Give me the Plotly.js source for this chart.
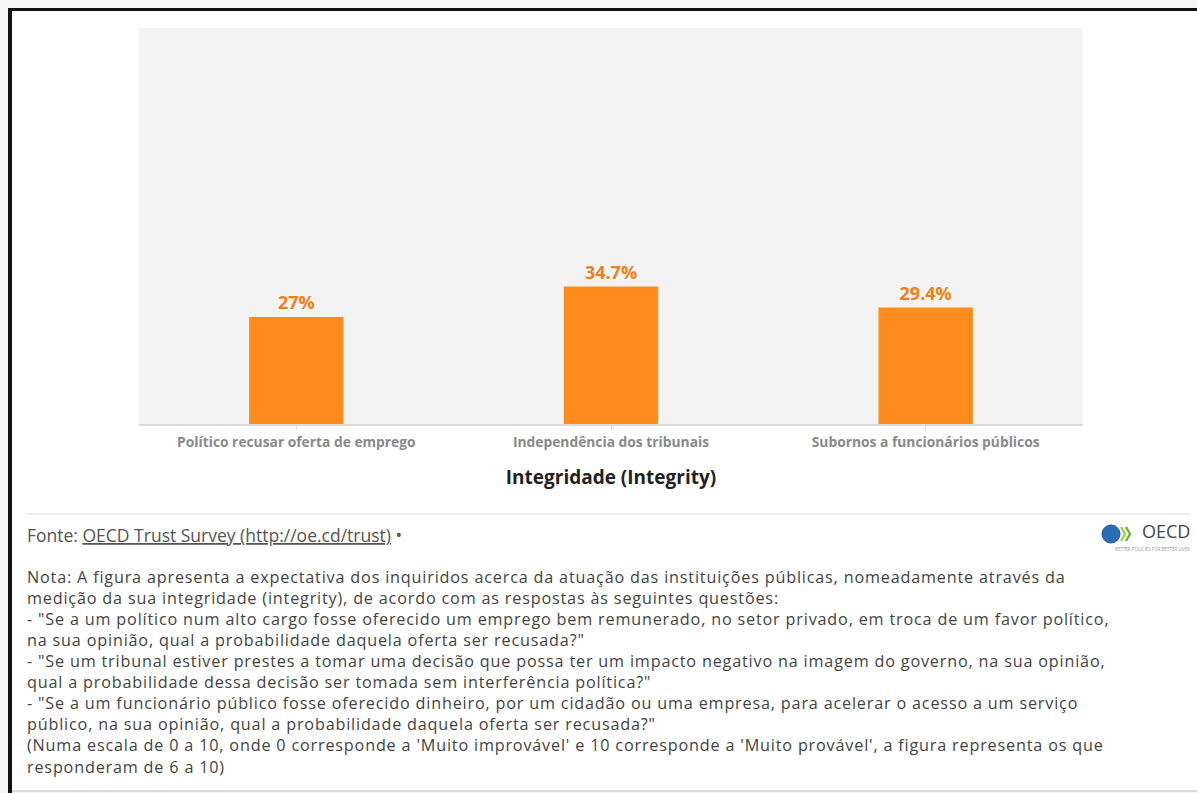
<!DOCTYPE html>
<html>
<head>
<meta charset="utf-8">
<script src="https://cdn.plot.ly/plotly-3.0.1.min.js"></script>
<style>
  html, body { margin: 0; padding: 0; background: #f5f5f5; }
  #chart { width: 1197px; height: 793px; }
</style>
</head>
<body>
<div id="chart"></div>
<script>
const categories = [
  "Político recusar oferta de emprego",
  "Independência dos tribunais",
  "Subornos a funcionários públicos"
];
const values = [27, 34.7, 29.4];
const valueLabels = ["27%", "34.7%", "29.4%"];
const axisTitle = "Integridade (Integrity)";
const sourceText = 'Fonte: <span style="text-decoration:underline">OECD Trust Survey (http://oe.cd/trust)</span> •';
const noteLines = [
  "Nota: A figura apresenta a expectativa dos inquiridos acerca da atuação das instituições públicas, nomeadamente através da",
  "medição da sua integridade (integrity), de acordo com as respostas às seguintes questões:",
  "- \"Se a um político num alto cargo fosse oferecido um emprego bem remunerado, no setor privado, em troca de um favor político,",
  "na sua opinião, qual a probabilidade daquela oferta ser recusada?\"",
  "- \"Se um tribunal estiver prestes a tomar uma decisão que possa ter um impacto negativo na imagem do governo, na sua opinião,",
  "qual a probabilidade dessa decisão ser tomada sem interferência política?\"",
  "- \"Se a um funcionário público fosse oferecido dinheiro, por um cidadão ou uma empresa, para acelerar o acesso a um serviço",
  "público, na sua opinião, qual a probabilidade daquela oferta ser recusada?\"",
  "(Numa escala de 0 a 10, onde 0 corresponde a 'Muito improvável' e 10 corresponde a 'Muito provável', a figura representa os que",
  "responderam de 6 a 10)"
];

// plot area geometry (pixels)
const L = 139, R = 1083, T = 28, B = 424;
const W = 1197, H = 793;
const xp = px => (px - L) / (R - L);
const yp = py => (B - py) / (B - T);
const pathOf = pts => pts.map((p, i) => (i ? 'L' : 'M') + xp(p[0]) + ',' + yp(p[1])).join(' ');

const FONT = '"Open Sans", "Noto Sans", sans-serif';

const trace = {
  type: 'bar',
  x: categories,
  y: values,
  text: valueLabels,
  texttemplate: '<b>%{text}</b>',
  textposition: 'outside',
  cliponaxis: false,
  textfont: { family: FONT, size: 18, color: '#f27f18' },
  marker: { color: '#fd8c1d', line: { width: 0 } },
  width: 0.3,
  hoverinfo: 'skip'
};

const shapes = [
  // white card
  { type: 'rect', xref: 'paper', yref: 'paper', layer: 'below',
    x0: xp(10), x1: xp(W + 5), y0: yp(791), y1: yp(10),
    fillcolor: '#ffffff', line: { width: 0 } },
  // plot area background
  { type: 'rect', xref: 'paper', yref: 'paper', layer: 'below',
    x0: 0, x1: 1, y0: 0, y1: 1, fillcolor: '#f3f3f3', line: { width: 0 } },
  // black frame left and top
  { type: 'line', xref: 'paper', yref: 'paper', x0: xp(10), x1: xp(10), y0: yp(8.5), y1: yp(H + 5),
    line: { color: '#111111', width: 4 } },
  { type: 'line', xref: 'paper', yref: 'paper', x0: xp(8), x1: xp(W + 5), y0: yp(9.5), y1: yp(9.5),
    line: { color: '#111111', width: 3 } },
  // bottom grey line
  { type: 'line', xref: 'paper', yref: 'paper', x0: xp(12), x1: xp(W + 5), y0: yp(791), y1: yp(791),
    line: { color: '#bbbbbb', width: 1 } },
  // separator above footer
  { type: 'line', xref: 'paper', yref: 'paper', x0: xp(27), x1: xp(1190), y0: yp(514), y1: yp(514),
    line: { color: '#dddddd', width: 1 } },
  // OECD logo globe
  { type: 'circle', xref: 'paper', yref: 'paper',
    x0: xp(1102), x1: xp(1120), y0: yp(543), y1: yp(525),
    fillcolor: '#2a6db5', line: { color: '#1d5597', width: 1 } },
  // OECD logo chevrons
  { type: 'path', xref: 'paper', yref: 'paper',
    path: pathOf([[1121, 527], [1125, 534], [1121, 541]]),
    line: { color: '#a9cf4a', width: 2.5 } },
  { type: 'path', xref: 'paper', yref: 'paper',
    path: pathOf([[1126, 527], [1130, 534], [1126, 541]]),
    line: { color: '#6db33f', width: 2.5 } }
];

const annotations = [];
annotations.push({
  xref: 'paper', yref: 'paper', x: xp(25), y: yp(535), xanchor: 'left', yanchor: 'middle',
  text: sourceText, showarrow: false,
  font: { family: FONT, size: 17.5, color: '#555555' }
});
annotations.push({
  xref: 'paper', yref: 'paper', x: xp(25), y: yp(564), xanchor: 'left', yanchor: 'top',
  align: 'left',
  text: noteLines.map(s => '<span style="letter-spacing:0.82px">' + s + '</span>').join('<br>'),
  showarrow: false,
  font: { family: FONT, size: 16.2, color: '#444444' }
});
// OECD logo text
annotations.push({
  xref: 'paper', yref: 'paper', x: xp(1192), y: yp(531), xanchor: 'right', yanchor: 'middle',
  text: 'OECD', showarrow: false,
  font: { family: FONT, size: 18, color: '#3a4656' }
});
annotations.push({
  xref: 'paper', yref: 'paper', x: xp(1192), y: yp(549), xanchor: 'right', yanchor: 'middle',
  text: 'BETTER POLICIES FOR BETTER LIVES', showarrow: false,
  font: { family: FONT, size: 4.5, color: '#999999' }
});

const layout = {
  width: W, height: H,
  margin: { l: L, r: W - R, t: T, b: H - B, pad: 0 },
  paper_bgcolor: '#f5f5f5',
  plot_bgcolor: 'rgba(0,0,0,0)',
  showlegend: false,
  bargap: 0.7,
  xaxis: {
    type: 'category',
    showgrid: false,
    showline: true, linecolor: '#dcdcdc', linewidth: 2,
    ticks: 'outside', ticklen: 4, tickcolor: '#dcdcdc', tickwidth: 1,
    tickfont: { family: FONT, size: 13.8, color: '#8a8a8a', weight: 'bold' },
    title: { text: '<b>' + axisTitle + '</b>', standoff: 21,
             font: { family: FONT, size: 19, color: '#222222' } },
    automargin: false,
    fixedrange: true
  },
  yaxis: {
    range: [0, 100],
    visible: false,
    showgrid: false, zeroline: false,
    fixedrange: true
  },
  shapes: shapes,
  annotations: annotations,
  font: { family: FONT }
};

Plotly.newPlot('chart', [trace], layout, { displayModeBar: false, staticPlot: true });
</script>
</body>
</html>
